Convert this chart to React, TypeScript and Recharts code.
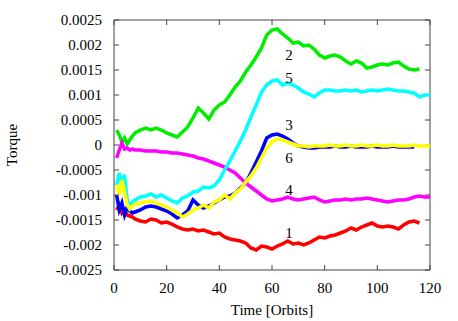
import React from 'react';
import {
  LineChart,
  Line,
  XAxis,
  YAxis,
  ReferenceDot,
  ReferenceLine,
} from 'recharts';

// time samples in orbits
const orbits = [
  1, 2, 3, 4, 5, 6, 7, 8, 10, 12, 14, 16, 18, 20, 22, 24, 26, 28, 30, 32, 34,
  36, 38, 40, 42, 44, 46, 48, 50, 52, 54, 56, 58, 60, 62, 64, 66, 68, 70, 72,
  74, 76, 78, 80, 82, 84, 86, 88, 90, 92, 94, 96, 98, 100, 102, 104, 106, 108,
  110, 112, 114, 116, 118, 120,
];

// torque values, in units of 1e-4
const torque1 = [
  -13.0, -12.0, -13.6, -13.0, -14.0, -14.2, -14.4, -14.8, -15.2, -15.4, -14.8,
  -15.0, -15.6, -15.4, -15.8, -16.4, -16.8, -17.0, -16.8, -17.2, -17.0, -17.4,
  -17.8, -17.6, -18.4, -18.8, -19.0, -19.2, -19.6, -20.6, -21.0, -20.2, -20.4,
  -20.8, -20.2, -19.8, -19.2, -19.8, -19.6, -20.0, -19.6, -19.0, -18.4, -18.6,
  -18.2, -18.0, -17.6, -17.2, -16.6, -17.0, -16.4, -16.0, -15.6, -16.2, -16.4,
  -16.2, -16.4, -16.8, -16.0, -15.4, -15.2, -15.6, null, null,
];
const torque2 = [
  3.0, 2.0, 0.6, 1.4, 0.2, 1.0, 1.8, 2.4, 3.0, 3.4, 3.0, 3.4, 3.0, 2.4, 2.0,
  1.6, 2.6, 3.6, 5.4, 7.4, 6.4, 5.2, 7.0, 8.0, 8.6, 10.0, 11.6, 12.8, 14.6,
  16.0, 17.6, 19.4, 22.0, 23.0, 23.2, 22.2, 21.4, 20.4, 20.6, 19.8, 20.0, 19.2,
  18.0, 17.4, 17.8, 18.0, 17.6, 16.8, 16.2, 16.8, 16.4, 15.4, 15.6, 16.0, 16.2,
  16.0, 16.4, 16.6, 15.8, 15.2, 15.0, 15.2, null, null,
];
const torque3 = [
  -10.0, -13.0, -11.6, -14.0, -12.4, -13.2, -13.6, -13.4, -13.0, -12.4, -12.2,
  -12.4, -12.8, -13.2, -13.8, -14.6, -14.0, -13.2, -11.0, -12.0, -12.6, -12.2,
  -11.6, -11.0, -10.4, -10.2, -9.6, -8.6, -7.6, -5.6, -3.4, -1.2, 1.4, 2.0, 2.2,
  1.8, 1.2, 0.4, -0.2, -0.4, -0.6, -0.6, -0.4, -0.4, -0.4, -0.2, -0.4, -0.4,
  -0.2, -0.4, -0.4, -0.4, -0.2, -0.4, -0.4, -0.4, -0.2, -0.4, -0.4, -0.4, -0.4,
  null, null, null,
];
const torque4 = [
  -2.6, -1.0, 0.4, -0.8, -0.6, -1.0, -0.8, -1.0, -1.0, -1.2, -1.2, -1.2, -1.4,
  -1.4, -1.6, -1.6, -1.8, -2.0, -2.2, -2.6, -2.8, -3.2, -3.6, -4.0, -4.4, -5.0,
  -5.6, -6.6, -7.6, -8.4, -9.2, -10.0, -10.8, -11.2, -11.0, -10.8, -10.4, -10.8,
  -11.0, -10.8, -10.6, -10.4, -11.0, -11.4, -11.2, -11.0, -11.0, -10.8, -11.0,
  -10.8, -10.8, -10.6, -10.8, -11.0, -11.2, -11.4, -11.2, -11.0, -11.0, -10.8,
  -10.4, -10.2, -10.4, -10.4,
];
const torque5 = [
  -8.0, -5.6, -7.6, -6.0, -11.0, -12.2, -11.4, -11.0, -10.4, -10.2, -9.8,
  -10.4, -10.0, -10.6, -11.2, -11.6, -10.6, -10.2, -9.4, -9.2, -8.4, -8.6, -8.2,
  -7.0, -5.0, -3.2, -1.2, 0.8, 3.0, 5.6, 8.0, 10.6, 12.0, 12.8, 13.0, 12.0,
  12.4, 12.0, 11.4, 10.6, 10.2, 9.6, 10.4, 11.0, 11.0, 10.8, 10.8, 11.0, 10.8,
  11.0, 10.6, 10.8, 11.0, 10.8, 11.0, 11.2, 11.0, 10.8, 10.8, 10.6, 10.4, 9.6,
  10.0, 10.0,
];
const torque6 = [
  -8.0, -10.0, -7.0, -9.4, -12.0, -12.8, -12.2, -11.8, -11.6, -11.4, -11.2,
  -11.6, -12.0, -12.4, -13.0, -13.6, -14.4, -13.8, -13.0, -12.6, -12.0, -12.6,
  -11.4, -11.0, -10.0, -10.8, -9.6, -8.8, -7.4, -6.2, -4.6, -2.6, -0.6, 0.6,
  1.2, 1.0, 0.6, 0.2, -0.2, -0.2, -0.4, -0.2, -0.2, -0.2, 0.0, -0.2, -0.2, 0.0,
  -0.2, -0.2, 0.0, -0.2, -0.2, 0.0, -0.2, -0.2, 0.0, -0.2, -0.2, -0.2, 0.0,
  -0.2, -0.2, -0.2,
];

const xTicks = [0, 20, 40, 60, 80, 100, 120];
const yTicks = [
  -0.0025, -0.002, -0.0015, -0.001, -0.0005, 0, 0.0005, 0.001, 0.0015, 0.002,
  0.0025,
];

// curve labels: [label, orbit, torque]
const curveLabels: [string, number, number][] = [
  ['1', 66.5, -0.00176],
  ['2', 66.5, 0.0018],
  ['3', 66.5, 0.0004],
  ['4', 66.5, -0.0009],
  ['5', 66.5, 0.00134],
  ['6', 66.5, -0.00026],
];

const scale = (v: number | null) => (v == null ? null : v / 1e4);

const rows = orbits.map((t, i) => ({
  t,
  s1: scale(torque1[i]),
  s2: scale(torque2[i]),
  s3: scale(torque3[i]),
  s4: scale(torque4[i]),
  s5: scale(torque5[i]),
  s6: scale(torque6[i]),
}));

const series = [
  { key: 's1', color: '#ff0000' },
  { key: 's2', color: '#00ee00' },
  { key: 's3', color: '#0000ff' },
  { key: 's4', color: '#ff00ff' },
  { key: 's5', color: '#00ffff' },
  { key: 's6', color: '#ffff00' },
];

const serif = '"Liberation Serif", "DejaVu Serif", serif';
const font = { fontFamily: serif, fontSize: 15, fill: '#000' };
const axisColor = '#444';

export default function App() {
  return (
    <div style={{ position: 'absolute', left: 0, top: 0, background: '#fff', fontFamily: serif }}>
      <style>{`.recharts-text { font-family: ${serif}; }`}</style>
      <LineChart
        width={458}
        height={321}
        data={rows}
        margin={{ top: 20, right: 28, left: 0, bottom: 0 }}
      >
        <XAxis
          dataKey="t"
          type="number"
          domain={[0, 120]}
          ticks={xTicks}
          tickSize={-5}
          tickMargin={17}
          height={51}
          stroke={axisColor}
          tick={font}
          label={{
            value: 'Time [Orbits]',
            position: 'insideBottom',
            offset: 6,
            style: font,
          }}
        />
        <YAxis
          type="number"
          domain={[-0.0025, 0.0025]}
          ticks={yTicks}
          tickSize={-5}
          tickMargin={17}
          width={114}
          stroke={axisColor}
          tick={font}
          interval={0}
          label={{
            value: 'Torque',
            angle: -90,
            position: 'insideLeft',
            offset: 12,
            style: { ...font, textAnchor: 'middle' },
          }}
        />
        {/* top and right frame with inward tick marks */}
        <ReferenceLine y={0.0025} stroke={axisColor} />
        <ReferenceLine x={120} stroke={axisColor} />
        {xTicks.map((t) => (
          <ReferenceLine
            key={`tx${t}`}
            segment={[
              { x: t, y: 0.0025 },
              { x: t, y: 0.0024 },
            ]}
            stroke={axisColor}
          />
        ))}
        {yTicks.map((v) => (
          <ReferenceLine
            key={`ty${v}`}
            segment={[
              { x: 120, y: v },
              { x: 118.1, y: v },
            ]}
            stroke={axisColor}
          />
        ))}
        {series.map((s) => (
          <Line
            key={s.key}
            dataKey={s.key}
            type="linear"
            stroke={s.color}
            strokeWidth={3.5}
            dot={false}
            connectNulls={false}
            isAnimationActive={false}
          />
        ))}
        {curveLabels.map(([text, x, y]) => (
          <ReferenceDot
            key={text}
            x={x}
            y={y}
            r={0}
            fill="none"
            stroke="none"
            label={{ value: text, position: 'center', style: font }}
          />
        ))}
      </LineChart>
    </div>
  );
}
